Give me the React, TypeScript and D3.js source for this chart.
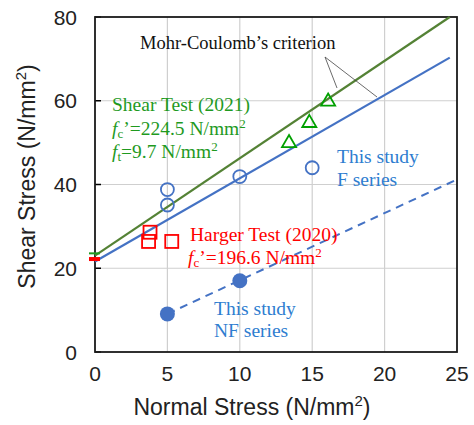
import { useEffect, useRef } from "react";
import * as d3 from "d3";

// data
const xTicks = [0, 5, 10, 15, 20, 25];
const yTicks = [0, 20, 40, 60, 80];

const fSeries = [[5, 38.8], [5, 35.1], [10, 41.9], [15, 44]];
const nfSeries = [[5, 9.1], [10, 17]];
const shearTest = [[13.4, 49.9], [14.8, 54.7], [16.1, 59.8]];
const hargerTest = [[3.8, 28.6], [3.7, 26.4], [5.3, 26.4]];

const greenLine = [[0, 23], [24.5, 80]];
const blueLine = [[0, 21.6], [24.5, 70.3]];
const nfLine = [[5, 9.1], [25, 41.2]];

const interceptRed = 22.2;
const interceptGreen = 23.2;

const App = () => {
    const svgRef = useRef<SVGSVGElement | null>(null);

    useEffect(() => {
        const margin = { top: 17, right: 17, bottom: 73, left: 95 };
        const width = 474 - margin.left - margin.right;
        const height = 425 - margin.top - margin.bottom;

        const root = d3.select(svgRef.current);
        root.selectAll("*").remove();
        const svg = root.append("g").attr("transform", `translate(${margin.left},${margin.top})`);

        const x = d3.scaleLinear().domain([0, 25]).range([0, width]);
        const y = d3.scaleLinear().domain([0, 80]).range([height, 0]);

        const sans = "Liberation Sans, Arial, sans-serif";
        const serif = "Liberation Serif, Times New Roman, serif";
        const fs = 19.5;

        // grid
        svg.append("g")
            .selectAll("line")
            .data(xTicks.slice(1, -1))
            .enter()
            .append("line")
            .attr("x1", (d) => x(d)).attr("x2", (d) => x(d))
            .attr("y1", 0).attr("y2", height)
            .attr("stroke", "#cfcfcf").attr("stroke-width", 1.2);
        svg.append("g")
            .selectAll("line")
            .data(yTicks.slice(1, -1))
            .enter()
            .append("line")
            .attr("x1", 0).attr("x2", width)
            .attr("y1", (d) => y(d)).attr("y2", (d) => y(d))
            .attr("stroke", "#cfcfcf").attr("stroke-width", 1.2);

        // inner ticks on y axis
        svg.append("g")
            .selectAll("line")
            .data(yTicks)
            .enter()
            .append("line")
            .attr("x1", 0).attr("x2", 6)
            .attr("y1", (d) => y(d)).attr("y2", (d) => y(d))
            .attr("stroke", "#000").attr("stroke-width", 1.5);

        // frame
        svg.append("rect")
            .attr("x", 0).attr("y", 0).attr("width", width).attr("height", height)
            .attr("fill", "none").attr("stroke", "#1a1a1a").attr("stroke-width", 1.8);

        // tick labels
        svg.append("g")
            .selectAll("text")
            .data(yTicks)
            .enter()
            .append("text")
            .attr("x", -18).attr("y", (d) => y(d)).attr("dy", "0.36em")
            .attr("text-anchor", "end")
            .attr("font-family", sans).attr("font-size", 21).attr("fill", "#222")
            .text((d) => d);
        svg.append("g")
            .selectAll("text")
            .data(xTicks)
            .enter()
            .append("text")
            .attr("x", (d) => x(d)).attr("y", height + 29)
            .attr("text-anchor", "middle")
            .attr("font-family", sans).attr("font-size", 21).attr("fill", "#222")
            .text((d) => d);

        // axis titles
        const xt = svg.append("text")
            .attr("x", width / 2 - 24).attr("y", height + 63)
            .attr("text-anchor", "middle")
            .attr("font-family", sans).attr("font-size", 23).attr("fill", "#222");
        xt.append("tspan").text("Normal Stress (N/mm");
        xt.append("tspan").attr("dy", -9).attr("font-size", 15).text("2");
        xt.append("tspan").attr("dy", 9).text(")");

        const yt = svg.append("text")
            .attr("transform", `translate(${-60},${y(40) - 8}) rotate(-90)`)
            .attr("text-anchor", "middle")
            .attr("font-family", sans).attr("font-size", 23).attr("fill", "#222");
        yt.append("tspan").text("Shear Stress (N/mm");
        yt.append("tspan").attr("dy", -9).attr("font-size", 15).text("2");
        yt.append("tspan").attr("dy", 9).text(")");

        // lines
        const line = d3.line<number[]>().x((d) => x(d[0])).y((d) => y(d[1]));
        svg.append("path").attr("d", line(greenLine)).attr("fill", "none")
            .attr("stroke", "#548235").attr("stroke-width", 2.2);
        svg.append("path").attr("d", line(blueLine)).attr("fill", "none")
            .attr("stroke", "#4472c4").attr("stroke-width", 2.2);
        svg.append("path").attr("d", line(nfLine)).attr("fill", "none")
            .attr("stroke", "#4472c4").attr("stroke-width", 2).attr("stroke-dasharray", "8,6");

        // intercept bars
        svg.append("line")
            .attr("x1", x(0) - 6).attr("x2", x(0) + 5)
            .attr("y1", y(interceptRed)).attr("y2", y(interceptRed))
            .attr("stroke", "#ff0000").attr("stroke-width", 4);
        svg.append("line")
            .attr("x1", x(0) - 6).attr("x2", x(0) + 5)
            .attr("y1", y(interceptGreen) - 1.5).attr("y2", y(interceptGreen) - 1.5)
            .attr("stroke", "#1f9a1f").attr("stroke-width", 2);

        // markers
        svg.selectAll(".f-dot")
            .data(fSeries)
            .enter()
            .append("circle")
            .attr("cx", (d) => x(d[0])).attr("cy", (d) => y(d[1]))
            .attr("r", 6.5)
            .attr("fill", "none").attr("stroke", "#4472c4").attr("stroke-width", 1.8);

        svg.selectAll(".nf-dot")
            .data(nfSeries)
            .enter()
            .append("circle")
            .attr("cx", (d) => x(d[0])).attr("cy", (d) => y(d[1]))
            .attr("r", 7.5)
            .attr("fill", "#4472c4");

        const tri = d3.symbol().type(d3.symbolTriangle).size(85);
        svg.selectAll(".tri")
            .data(shearTest)
            .enter()
            .append("path")
            .attr("d", tri)
            .attr("transform", (d) => `translate(${x(d[0])},${y(d[1])})`)
            .attr("fill", "none").attr("stroke", "#00a000").attr("stroke-width", 1.8);

        svg.selectAll(".sq")
            .data(hargerTest)
            .enter()
            .append("rect")
            .attr("x", (d) => x(d[0]) - 6.5).attr("y", (d) => y(d[1]) - 6.5)
            .attr("width", 13).attr("height", 13)
            .attr("fill", "none").attr("stroke", "#ff0000").attr("stroke-width", 1.8);

        // annotations
        svg.append("text")
            .attr("x", 45).attr("y", 32)
            .attr("font-family", serif).attr("font-size", 18.5).attr("fill", "#111")
            .text("Mohr-Coulomb\u2019s criterion");
        svg.append("line")
            .attr("x1", 230).attr("y1", 40).attr("x2", 242).attr("y2", 71)
            .attr("stroke", "#444").attr("stroke-width", 0.8);
        svg.append("line")
            .attr("x1", 230).attr("y1", 40).attr("x2", 282).attr("y2", 80)
            .attr("stroke", "#444").attr("stroke-width", 0.8);

        const green = "#1f9a1f";
        svg.append("text")
            .attr("x", 17).attr("y", 94)
            .attr("font-family", serif).attr("font-size", fs).attr("fill", green)
            .text("Shear Test (2021)");
        const g2 = svg.append("text")
            .attr("x", 17).attr("y", 118)
            .attr("font-family", serif).attr("font-size", fs).attr("fill", green);
        g2.append("tspan").attr("font-style", "italic").text("f");
        g2.append("tspan").attr("font-size", 13).attr("dy", 3).text("c");
        g2.append("tspan").attr("dy", -3).text("\u2019=224.5 N/mm");
        g2.append("tspan").attr("font-size", 13).attr("dy", -7).text("2");
        const g3 = svg.append("text")
            .attr("x", 17).attr("y", 141)
            .attr("font-family", serif).attr("font-size", fs).attr("fill", green);
        g3.append("tspan").attr("font-style", "italic").text("f");
        g3.append("tspan").attr("font-size", 13).attr("dy", 3).text("t");
        g3.append("tspan").attr("dy", -3).text("=9.7 N/mm");
        g3.append("tspan").attr("font-size", 13).attr("dy", -7).text("2");

        const blueText = "#2e7dd0";
        svg.append("text")
            .attr("x", 242).attr("y", 146)
            .attr("font-family", serif).attr("font-size", fs).attr("fill", blueText)
            .text("This study");
        svg.append("text")
            .attr("x", 242).attr("y", 169)
            .attr("font-family", serif).attr("font-size", fs).attr("fill", blueText)
            .text("F series");

        const red = "#ff0000";
        svg.append("text")
            .attr("x", 95).attr("y", 224)
            .attr("font-family", serif).attr("font-size", fs).attr("fill", red)
            .text("Harger Test (2020)");
        const r2 = svg.append("text")
            .attr("x", 93).attr("y", 247)
            .attr("font-family", serif).attr("font-size", fs).attr("fill", red);
        r2.append("tspan").attr("font-style", "italic").text("f");
        r2.append("tspan").attr("font-size", 13).attr("dy", 3).text("c");
        r2.append("tspan").attr("dy", -3).text("\u2019=196.6 N/mm");
        r2.append("tspan").attr("font-size", 13).attr("dy", -7).text("2");

        svg.append("text")
            .attr("x", 119).attr("y", 298)
            .attr("font-family", serif).attr("font-size", fs).attr("fill", blueText)
            .text("This study");
        svg.append("text")
            .attr("x", 119).attr("y", 320)
            .attr("font-family", serif).attr("font-size", fs).attr("fill", blueText)
            .text("NF series");
    }, []);

    return (
        <svg
            ref={svgRef}
            width={474}
            height={425}
            style={{ position: "absolute", left: 0, top: 0, background: "#fff" }}
        ></svg>
    );
};

export default App;
